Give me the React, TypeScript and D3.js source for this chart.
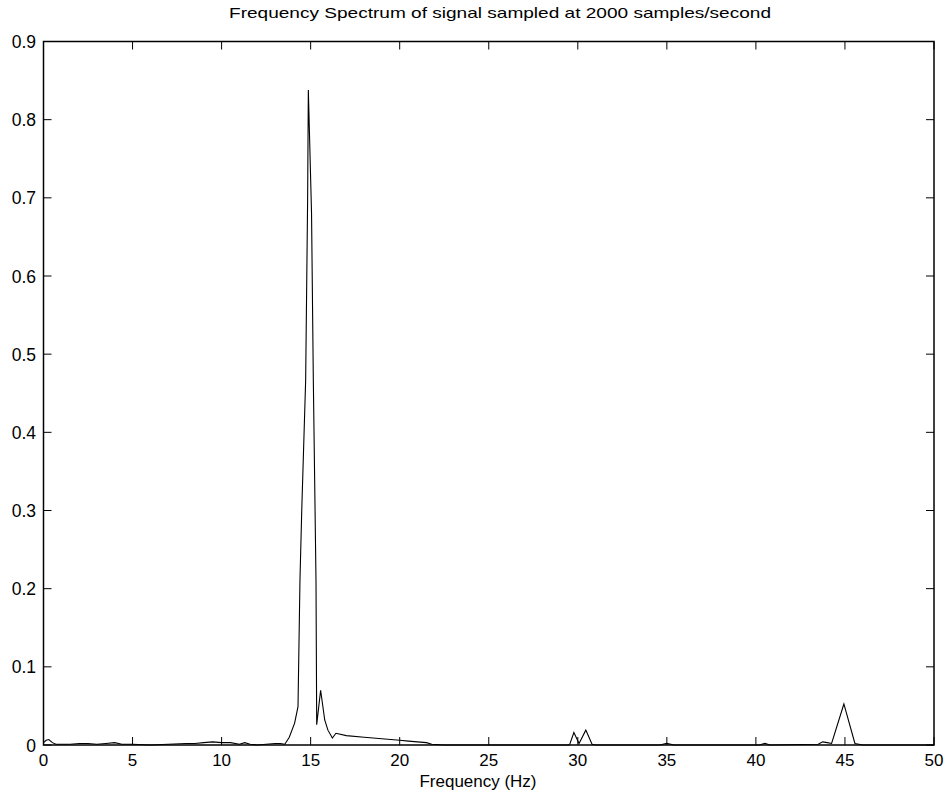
import React from "react";
import * as d3 from "d3";

const freqs = [
  0, 0.15, 0.3, 0.5, 0.7, 1.0, 1.5, 2.0, 2.5, 3.0, 3.5, 4.0, 4.4, 5.0, 6.0, 7.0,
  8.0, 8.5, 9.0, 9.5, 10.0, 10.5, 11.0, 11.3, 11.6, 12.0, 12.5, 13.0, 13.3, 13.55,
  13.8, 14.1, 14.29, 14.4, 14.5, 14.72, 14.83, 14.87, 15.05, 15.15, 15.3, 15.34,
  15.56, 15.79, 15.97, 16.22, 16.42, 17.0, 18.0, 19.0, 20.0, 20.5, 21.0, 21.5, 21.8,
  22.5, 25.0, 29.5, 29.55, 29.78, 30.07, 30.45, 30.8, 31.0, 34.6, 35.0, 35.4, 40.2,
  40.5, 40.8, 43.5, 43.75, 44.0, 44.25, 44.94, 45.56, 46.0, 50.0,
];
const amps = [
  0.003, 0.006, 0.007, 0.003, 0.001, 0.001, 0.001, 0.002, 0.002, 0.001, 0.002, 0.003, 0.001, 0.001, 0.0, 0.001,
  0.002, 0.002, 0.003, 0.004, 0.003, 0.003, 0.001, 0.003, 0.001, 0.0, 0.001, 0.002, 0.002, 0.001,
  0.01, 0.028, 0.049, 0.211, 0.3, 0.467, 0.698, 0.838, 0.68, 0.467, 0.211, 0.026,
  0.07, 0.032, 0.019, 0.009, 0.015, 0.012, 0.01, 0.008, 0.006, 0.005, 0.004, 0.003, 0.001,
  0.0, 0.0, 0.0, 0.001, 0.016, 0.002, 0.019, 0.001, 0.0, 0.0, 0.002, 0.0, 0.0,
  0.002, 0.0, 0.001, 0.004, 0.003, 0.002, 0.0525, 0.002, 0.0, 0.0,
];
const xTicks = [0, 5, 10, 15, 20, 25, 30, 35, 40, 45, 50];
const yTicks = [0, 0.1, 0.2, 0.3, 0.4, 0.5, 0.6, 0.7, 0.8, 0.9];
const titleText = "Frequency Spectrum of signal sampled at 2000 samples/second";
const xLabelText = "Frequency (Hz)";

export default function App() {
  const W = 951, H = 799;
  const left = 43.5, right = 934, top = 41.5, bottom = 745;
  const x = d3.scaleLinear().domain([0, 50]).range([left, right]);
  const y = d3.scaleLinear().domain([0, 0.9]).range([bottom, top]);
  const pts = freqs.map((f, i) => [f, amps[i]] as [number, number]);
  const line = d3.line<[number, number]>().x(d => x(d[0])).y(d => y(d[1]));
  const tl = 8;
  const font = "'Liberation Sans', Arial, Helvetica, sans-serif";
  const fmt = (v: number) => (v === 0 ? "0" : d3.format(".1f")(v));
  return (
    <div style={{ position: "absolute", left: 0, top: 0 }}>
      <svg width={W} height={H} style={{ display: "block", background: "#fff" }}>
        <text x={500} y={18} textAnchor="middle" fontFamily={font} fontSize={15}
          textLength={542} lengthAdjust="spacingAndGlyphs" fill="#000">{titleText}</text>
        <path d={line(pts) || ""} fill="none" stroke="#000" strokeWidth={1.1} />
        <rect x={left} y={top} width={right - left} height={bottom - top} fill="none" stroke="#000" strokeWidth={1.5} />
        {xTicks.map(t => (
          <g key={"x" + t}>
            <line x1={x(t)} x2={x(t)} y1={bottom} y2={bottom - tl} stroke="#000" strokeWidth={1} />
            <line x1={x(t)} x2={x(t)} y1={top} y2={top + tl} stroke="#000" strokeWidth={1} />
            <text x={x(t)} y={766} textAnchor="middle" fontFamily={font} fontSize={17} fill="#000">{t}</text>
          </g>
        ))}
        {yTicks.map(t => (
          <g key={"y" + t}>
            <line x1={left} x2={left + tl} y1={y(t)} y2={y(t)} stroke="#000" strokeWidth={1} />
            <line x1={right} x2={right - tl} y1={y(t)} y2={y(t)} stroke="#000" strokeWidth={1} />
            <text x={36} y={y(t) + 6.5} textAnchor="end" fontFamily={font} fontSize={17.5} fill="#000">{fmt(t)}</text>
          </g>
        ))}
        <text x={478} y={787} textAnchor="middle" fontFamily={font} fontSize={16.5}
          textLength={117} lengthAdjust="spacingAndGlyphs" fill="#000">{xLabelText}</text>
      </svg>
    </div>
  );
}
